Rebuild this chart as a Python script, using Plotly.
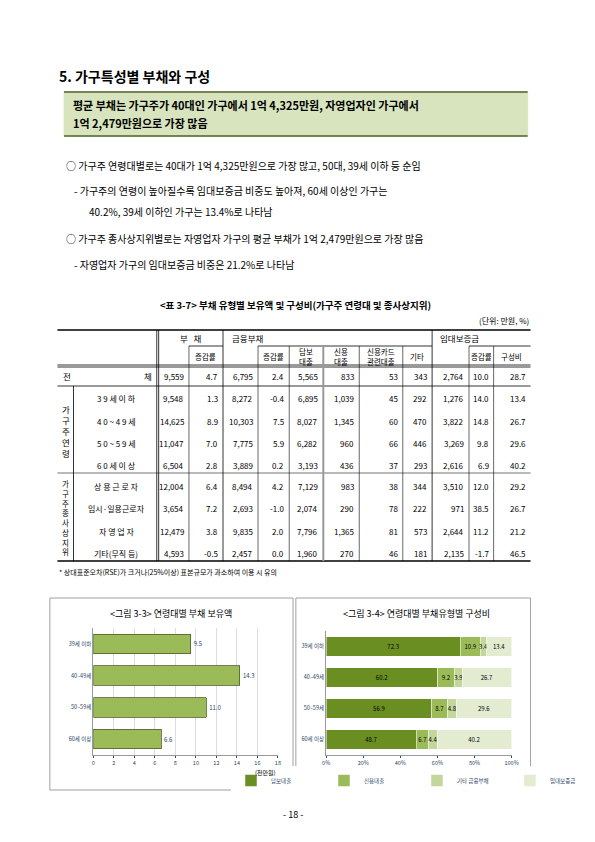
import plotly.graph_objects as go

W, H = 595, 842
FONT = "Noto Sans CJK KR"

# 표 데이터
row_labels = ["전                체", "3 9 세 이 하", "4 0 ~ 4 9 세", "5 0 ~ 5 9 세", "6 0 세 이 상",
              "상 용 근 로 자", "임시·일용근로자", "자 영 업 자", "기타(무직 등)"]
debt = ["9,559", "9,548", "14,625", "11,047", "6,504", "12,004", "3,654", "12,479", "4,593"]
debt_chg = ["4.7", "1.3", "8.9", "7.0", "2.8", "6.4", "7.2", "3.8", "-0.5"]
fin = ["6,795", "8,272", "10,303", "7,775", "3,889", "8,494", "2,693", "9,835", "2,457"]
fin_chg = ["2.4", "-0.4", "7.5", "5.9", "0.2", "4.2", "-1.0", "2.0", "0.0"]
secured = ["5,565", "6,895", "8,027", "6,282", "3,193", "7,129", "2,074", "7,796", "1,960"]
credit = ["833", "1,039", "1,345", "960", "436", "983", "290", "1,365", "270"]
card = ["53", "45", "60", "66", "37", "38", "78", "81", "46"]
other = ["343", "292", "470", "446", "293", "344", "222", "573", "181"]
deposit = ["2,764", "1,276", "3,822", "3,269", "2,616", "3,510", "971", "2,644", "2,135"]
dep_chg = ["10.0", "14.0", "14.8", "9.8", "6.9", "12.0", "38.5", "11.2", "-1.7"]
dep_share = ["28.7", "13.4", "26.7", "29.6", "40.2", "29.2", "26.7", "21.2", "46.5"]

# 그림 3-3
age_groups = ["39세 이하", "40~49세", "50~59세", "60세 이상"]
debt_amount = [9.5, 14.3, 11.0, 6.6]
# 그림 3-4
share_secured = [72.3, 60.2, 56.9, 48.7]
share_credit = [10.9, 9.2, 8.7, 6.7]
share_other = [3.4, 3.9, 4.8, 4.4]
share_deposit = [13.4, 26.7, 29.6, 40.2]


def px(x):
    return x / W


def py(y):
    return 1 - y / H


ann = []
shapes = []


def text(x, y, s, size=9, anchor="left", bold=False, color="black"):
    ann.append(dict(x=px(x), y=py(y), xref="paper", yref="paper", text=f"<b>{s}</b>" if bold else s,
                    showarrow=False, xanchor=anchor, yanchor="middle",
                    font=dict(family=FONT, size=size, color=color)))


def line(x0, y0, x1, y1, w=0.8, color="black"):
    shapes.append(dict(type="line", xref="paper", yref="paper", x0=px(x0), y0=py(y0), x1=px(x1), y1=py(y1),
                       line=dict(color=color, width=w)))


def rect(x0, y0, x1, y1, fill=None, color="black", w=0.8):
    shapes.append(dict(type="rect", xref="paper", yref="paper", x0=px(x0), y0=py(y0), x1=px(x1), y1=py(y1),
                       fillcolor=fill or "rgba(0,0,0,0)", line=dict(color=color, width=w), layer="below"))


# 제목과 요약 박스
text(48, 68, "5. 가구특성별 부채와 구성", size=14, bold=True)
rect(55, 84, 545, 128, fill="#d7e4bd", color="#d7e4bd")
line(55, 84, 545, 84, w=1.5, color="#4f6228")
line(55, 128, 545, 128, w=1.5, color="#4f6228")
text(62, 97, "평균 부채는 가구주가 40대인 가구에서 1억 4,325만원, 자영업자인 가구에서", size=11, bold=True)
text(62, 115, "1억 2,479만원으로 가장 많음", size=11, bold=True)

text(55, 157, "○ 가구주 연령대별로는 40대가 1억 4,325만원으로 가장 많고, 50대, 39세 이하 등 순임", size=10)
text(63, 183, "- 가구주의 연령이 높아질수록 임대보증금 비중도 높아져, 60세 이상인 가구는", size=10)
text(79, 203, "40.2%, 39세 이하인 가구는 13.4%로 나타남", size=10)
text(55, 230, "○ 가구주 종사상지위별로는 자영업자 가구의 평균 부채가 1억 2,479만원으로 가장 많음", size=10)
text(63, 256, "- 자영업자 가구의 임대보증금 비중은 21.2%로 나타남", size=10)

# 표
text(300, 297, "<표 3-7> 부채 유형별 보유액 및 구성비(가구주 연령대 및 종사상지위)", size=9.5, anchor="center", bold=True)
text(548, 312, "(단위: 만원, %)", size=8, anchor="right")
cols = [155, 187, 223, 260, 293, 329, 367, 413, 444, 483, 509, 548]
top, mid, hb = 322, 338, 357
line(48, top, 548, top, w=1.5)
line(48, hb, 548, hb, w=0.8)
line(48, hb + 2, 548, hb + 2, w=0.8)
line(48, 378, 548, 378, w=0.8)
line(48, 465, 548, 465, w=1.2, color="#777")
line(48, 553, 548, 553, w=1.5)
line(65, 378, 65, 553, w=0.8)
line(187, mid, 223, mid)
line(260, mid, 444, mid)
line(483, mid, 548, mid)
for c in [153, 155, 223, 444]:
    line(c, top, c, 553, w=0.8)
for c in [187, 260, 293, 329, 367, 413, 483, 509]:
    line(c, mid, c, 553, w=2 if c == 329 else 0.6, color="#999" if c == 329 else "black")
text(189, 330, "부   채", size=8.5, anchor="center")
text(230, 330, "금융부채", size=8.5)
text(450, 330, "임대보증금", size=8.5)
subs = {205: "증감률", 276: "증감률", 311: "담보<br>대출", 348: "신용<br>대출", 390: "신용카드<br>관련대출",
        428: "기타", 496: "증감률", 528: "구성비"}
for x, s in subs.items():
    text(x, 348, s, size=7.5, anchor="center")

row_y = [368, 390, 413, 435, 457, 478, 500, 523, 545]
table_cols = [debt, debt_chg, fin, fin_chg, secured, credit, card, other, deposit, dep_chg, dep_share]
for i, y in enumerate(row_y):
    lab = row_labels[i]
    if i == 0:
        text(52, y, "전", size=8.5)
        text(150, y, "체", size=8.5, anchor="right")
    else:
        text(110, y, lab, size=8, anchor="center")
    for j, col in enumerate(table_cols):
        text(cols[j + 1] - 3, y, col[i], size=8, anchor="right")
text(57, 423, "가<br>구<br>주<br>연<br>령", size=8.5, anchor="center")
text(57, 509, "가<br>구<br>주<br>종<br>사<br>상<br>지<br>위", size=7.5, anchor="center")
text(48, 564, "* 상대표준오차(RSE)가 크거나(25%이상) 표본규모가 과소하여 이용 시 유의", size=7)

# 그림 상자
rect(40, 590, 297, 782, color="#888")
rect(300, 590, 548, 782, color="#888")
text(168, 605, "<그림 3-3> 연령대별 부채 보유액", size=9, anchor="center")
text(428, 605, "<그림 3-4> 연령대별 부채유형별 구성비", size=9, anchor="center")
text(281, 764, "(천만원)", size=6, anchor="right")
text(297, 806, "- 18 -", size=9, anchor="center")

fig = go.Figure()
fig.add_trace(go.Bar(x=debt_amount, y=age_groups, orientation="h", marker=dict(color="#9bbb59",
              line=dict(color="#4f6228", width=0.8)), text=[f"{v:.1f}" for v in debt_amount],
              textposition="outside", textfont=dict(size=6, family=FONT), width=0.62,
              xaxis="x", yaxis="y", showlegend=False))
parts = [("담보대출", share_secured, "#6b8e23"), ("신용대출", share_credit, "#9bbb59"),
         ("기타 금융부채", share_other, "#c3d69b"), ("임대보증금", share_deposit, "#e3ecd0")]
for name, vals, colr in parts:
    fig.add_trace(go.Bar(x=vals, y=age_groups, orientation="h", name=name,
                  marker=dict(color=colr, line=dict(color="white", width=0.5)),
                  text=[f"{v:.1f}" for v in vals], textposition="inside", insidetextanchor="middle",
                  textangle=0, constraintext="none",
                  textfont=dict(size=6, family=FONT, color="black"), width=0.62,
                  xaxis="x2", yaxis="y2"))

fig.update_layout(
    width=W, height=H, margin=dict(l=0, r=0, t=0, b=0), paper_bgcolor="white", plot_bgcolor="white",
    barmode="stack", annotations=ann, shapes=shapes,
    font=dict(family=FONT, size=6),
    uniformtext=dict(minsize=5.5, mode="show"),
    xaxis=dict(domain=[px(86), px(281)], range=[0, 18], dtick=2, showgrid=True, gridcolor="#ddd",
               tickfont=dict(size=5.5), ticks="outside", ticklen=2, showline=True, linecolor="#999"),
    yaxis=dict(domain=[py(747), py(620)], autorange="reversed", tickfont=dict(size=5.5), anchor="x",
               showline=True, linecolor="#999"),
    xaxis2=dict(domain=[px(332), px(528)], range=[0, 100], dtick=20, ticksuffix="%", showgrid=False,
                tickfont=dict(size=5.5), ticks="outside", ticklen=2, showline=True, linecolor="#999",
                anchor="y2"),
    yaxis2=dict(domain=[py(747), py(623)], autorange="reversed", tickfont=dict(size=5.5), anchor="x2",
                showline=True, linecolor="#999"),
    legend=dict(orientation="h", x=px(428), y=py(758), xanchor="center", yanchor="top",
                font=dict(size=5.5), traceorder="normal", entrywidth=48, entrywidthmode="pixels",
                itemwidth=30, tracegroupgap=0),
)
fig.write_html("out.html")
